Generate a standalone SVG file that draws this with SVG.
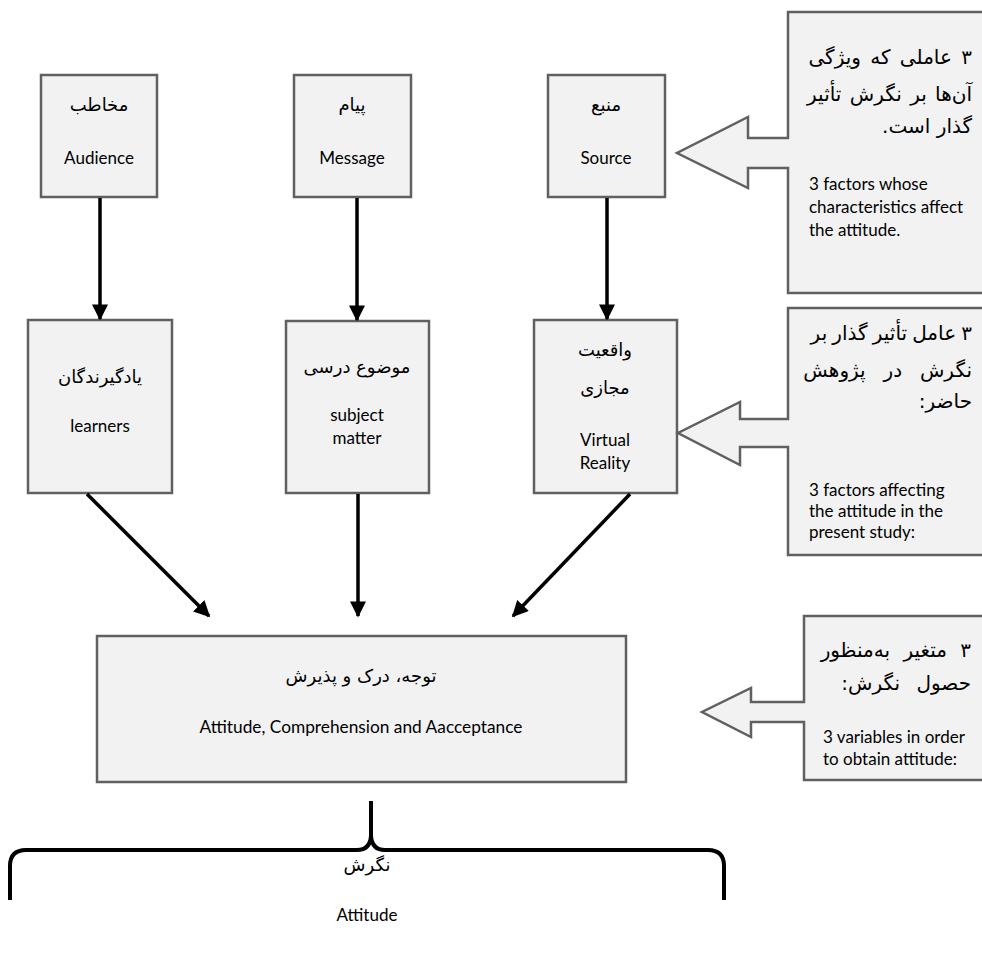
<svg xmlns="http://www.w3.org/2000/svg" width="982" height="953" viewBox="0 0 982 953">
<defs>
<marker id="ah" viewBox="0 0 10 10" refX="9" refY="5" markerWidth="4.8" markerHeight="4.6" markerUnits="strokeWidth" orient="auto">
<path d="M0,0 L10,5 L0,10 z" fill="#000"/>
</marker>
<style>
.box{fill:#f2f2f2;stroke:#606060;stroke-width:2.5}
.en{font-family:Lato,'Liberation Sans',sans-serif;font-size:17px;fill:#000}
.fa{font-family:'DejaVu Sans',sans-serif;font-size:18px;fill:#000}
.fc{font-family:'DejaVu Sans',sans-serif;font-size:20px;fill:#000}
.c{text-anchor:middle}
.r{direction:rtl;text-anchor:start}
.conn{stroke:#000;stroke-width:3.5;fill:none;marker-end:url(#ah)}
.brace{stroke:#000;stroke-width:4;fill:none;stroke-linejoin:round}
</style>
</defs>
<rect width="982" height="953" fill="#fff"/>

<g id="audience">
<rect class="box" x="41" y="75" width="116" height="122"/>
<text class="fa c" x="99" y="111" direction="rtl">مخاطب</text>
<text class="en c" x="99" y="164">Audience</text>
</g>
<g id="message">
<rect class="box" x="294" y="75" width="117" height="122"/>
<text class="fa c" x="352" y="111" direction="rtl">پیام</text>
<text class="en c" x="352" y="164">Message</text>
</g>
<g id="source">
<rect class="box" x="548" y="75" width="117" height="122"/>
<text class="fa c" x="606" y="111" direction="rtl">منبع</text>
<text class="en c" x="606" y="164">Source</text>
</g>

<g id="learners">
<rect class="box" x="28" y="320" width="144" height="173"/>
<text class="fa c" x="100" y="383" direction="rtl">یادگیرندگان</text>
<text class="en c" x="100" y="432">learners</text>
</g>
<g id="subject">
<rect class="box" x="286" y="321" width="143" height="172"/>
<text class="fa c" x="357" y="373" direction="rtl">موضوع درسی</text>
<text class="en c" x="357" y="421">subject</text>
<text class="en c" x="357" y="444">matter</text>
</g>
<g id="vr">
<rect class="box" x="534" y="320" width="143" height="173"/>
<text class="fa c" x="605" y="356" direction="rtl">واقعیت</text>
<text class="fa c" x="605" y="394" direction="rtl">مجازی</text>
<text class="en c" x="605" y="446">Virtual</text>
<text class="en c" x="605" y="469">Reality</text>
</g>

<g id="acceptance">
<rect class="box" x="97" y="636" width="529" height="146"/>
<text class="fa c" x="361" y="682" direction="rtl">توجه، درک و پذیرش</text>
<text class="en c" x="361" y="733" style="font-size:17.3px">Attitude, Comprehension and Aacceptance</text>
</g>

<g id="callout1">
<path class="box" d="M995 12 H788 V138 H748 V117 L677 153 L748 188 V168 H788 V293 H995"/>
<text class="fc r" x="972" y="64" word-spacing="3">۳ عاملی که ویژگی</text>
<text class="fc r" x="972" y="101" word-spacing="2">آن‌ها بر نگرش تأثیر</text>
<text class="fc r" x="972" y="133">گذار است.</text>
<text class="en" x="809" y="190">3 factors whose</text>
<text class="en" x="809" y="213">characteristics affect</text>
<text class="en" x="809" y="236">the attitude.</text>
</g>
<g id="callout2">
<path class="box" d="M995 308 H788 V419 H740 V402 L678 433 L740 465 V447 H788 V555 H995"/>
<text class="fc r" x="972" y="340" word-spacing="-1.2">۳ عامل تأثیر گذار بر</text>
<text class="fc r" x="972" y="377" word-spacing="11.5">نگرش در پژوهش</text>
<text class="fc r" x="972" y="408">حاضر:</text>
<text class="en" x="809" y="496">3 factors affecting</text>
<text class="en" x="809" y="517">the attitude in the</text>
<text class="en" x="809" y="538">present study:</text>
</g>
<g id="callout3">
<path class="box" d="M995 616 H804 V702 H751 V688 L702 712 L751 737 V722 H804 V780 H995"/>
<text class="fc r" x="971" y="657" word-spacing="7">۳ متغیر به‌منظور</text>
<text class="fc r" x="971" y="690" word-spacing="10">حصول نگرش:</text>
<text class="en" x="823" y="743">3 variables in order</text>
<text class="en" x="823" y="765">to obtain attitude:</text>
</g>

<g id="brace-attitude">
<path class="brace" d="M10 900 V866 Q10 850 26 850 H357 Q370 850 371 836 V801 M371 836 Q372 850 385 850 H708 Q724 850 724 866 V900"/>
<text class="fa c" x="367" y="871" direction="rtl">نگرش</text>
<text class="en c" x="367" y="921">Attitude</text>
</g>

<g id="connectors">
<line class="conn" x1="100" y1="198" x2="100" y2="319"/>
<line class="conn" x1="357" y1="198" x2="357" y2="320"/>
<line class="conn" x1="607" y1="198" x2="607" y2="319"/>
<line class="conn" x1="87" y1="494" x2="209" y2="616"/>
<line class="conn" x1="358" y1="494" x2="358" y2="616"/>
<line class="conn" x1="630" y1="494" x2="513" y2="616"/>
</g>
</svg>
